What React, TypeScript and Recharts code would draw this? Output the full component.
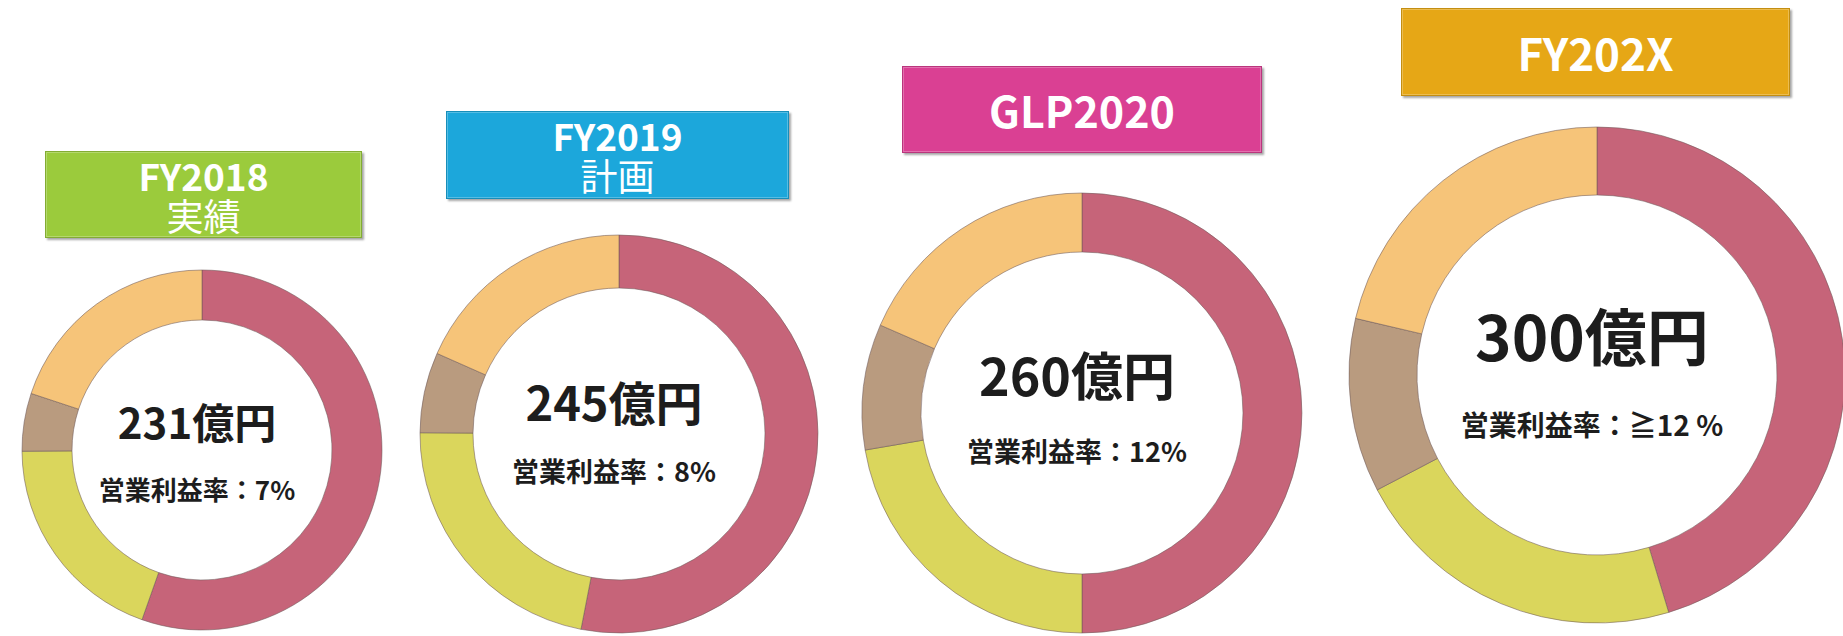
import { PieChart, Pie, Cell } from 'recharts';

const W = 1843;
const H = 636;
const FONT = '"Noto Sans CJK JP", "Noto Sans", sans-serif';

// ring segments, clockwise from 12 o'clock (億円)
const SEGMENTS = ['seg1', 'seg2', 'seg3', 'seg4'];
const SEGMENT_COLORS = ['#C66479', '#DAD65C', '#B99B7F', '#F6C479'];

const FY2018_VALUES = [128, 45, 12, 46];
const FY2019_VALUES = [130, 54, 16, 45];
const GLP2020_VALUES = [130, 58, 24, 48];
const FY202X_VALUES = [136, 66, 34, 64];

const TITLES = ['FY2018', 'FY2019', 'GLP2020', 'FY202X'];
const SUBTITLES = ['実績', '計画', '', ''];
const MARGINS = ['7%', '8%', '12%', '≧12 %'];
const HEADER_COLORS = ['#9BCB3C', '#1CA7DB', '#DA4093', '#E6A716'];

const VALUES = [FY2018_VALUES, FY2019_VALUES, GLP2020_VALUES, FY202X_VALUES];

// geometry of each donut + its header
const LAYOUT = [
  { cx: 197, cy: 445, outer: 180, inner: 130, box: [45, 151, 317, 87], titleSize: 37, totalSize: 42, marginSize: 26, totalY: 421, marginY: 489 },
  { cx: 614, cy: 429, outer: 199, inner: 146, box: [446, 111, 343, 88], titleSize: 37, totalSize: 47, marginSize: 27, totalY: 400, marginY: 470 },
  { cx: 1077, cy: 408, outer: 220, inner: 161, box: [902, 66, 360, 87], titleSize: 43, totalSize: 52, marginSize: 27, totalY: 374, marginY: 450 },
  { cx: 1592, cy: 370, outer: 248, inner: 180, box: [1401, 8, 389, 88], titleSize: 44, totalSize: 62, marginSize: 28, totalY: 334, marginY: 424 },
];

function toRows(values: number[]) {
  return values.map((v, i) => ({ name: SEGMENTS[i], value: v }));
}

function Header({ i }: { i: number }) {
  const l = LAYOUT[i];
  const [x, y, w, h] = l.box;
  const sub = SUBTITLES[i];
  return (
    <div
      style={{
        position: 'absolute',
        left: x,
        top: y,
        width: w,
        height: h,
        background: HEADER_COLORS[i],
        boxShadow: 'inset 0 0 0 1px rgba(255,255,255,0.25), 2px 2px 2px rgba(0,0,0,0.35)',
        border: '1px solid rgba(0,0,0,0.15)',
        boxSizing: 'border-box',
        color: '#fff',
        fontFamily: FONT,
        display: 'flex',
        flexDirection: 'column',
        alignItems: 'center',
        justifyContent: 'center',
        lineHeight: 1.1,
      }}
    >
      <div style={{ fontWeight: 700, fontSize: l.titleSize, lineHeight: sub ? '40px' : 1.1 }}>{TITLES[i]}</div>
      {sub && <div style={{ fontWeight: 400, fontSize: l.titleSize, lineHeight: '40px' }}>{sub}</div>}
    </div>
  );
}

function CenterText({ i }: { i: number }) {
  const l = LAYOUT[i];
  const total = VALUES[i].reduce((a, b) => a + b, 0);
  const base = {
    position: 'absolute' as const,
    left: l.cx,
    transform: 'translate(-50%, -50%)',
    whiteSpace: 'nowrap' as const,
    fontFamily: FONT,
    fontWeight: 700,
    color: '#1d1d1d',
    lineHeight: 1,
  };
  return (
    <>
      <div style={{ ...base, top: l.totalY, fontSize: l.totalSize }}>{total}億円</div>
      <div style={{ ...base, top: l.marginY, fontSize: l.marginSize }}>営業利益率：{MARGINS[i]}</div>
    </>
  );
}

export default function App() {
  return (
    <div style={{ position: 'absolute', left: 0, top: 0, width: W, height: H, background: '#fff' }}>
      <PieChart width={W} height={H} style={{ position: 'absolute', left: 0, top: 0 }}>
        {VALUES.map((vals, i) => (
          <Pie
            key={TITLES[i]}
            data={toRows(vals)}
            dataKey="value"
            nameKey="name"
            cx={LAYOUT[i].cx}
            cy={LAYOUT[i].cy}
            innerRadius={LAYOUT[i].inner}
            outerRadius={LAYOUT[i].outer}
            startAngle={90}
            endAngle={-270}
            stroke="rgba(110,90,90,0.55)"
            strokeWidth={1}
            isAnimationActive={false}
          >
            {vals.map((_, j) => (
              <Cell key={j} fill={SEGMENT_COLORS[j]} />
            ))}
          </Pie>
        ))}
      </PieChart>
      {LAYOUT.map((_, i) => (
        <Header key={'h' + i} i={i} />
      ))}
      {LAYOUT.map((_, i) => (
        <CenterText key={'c' + i} i={i} />
      ))}
    </div>
  );
}
